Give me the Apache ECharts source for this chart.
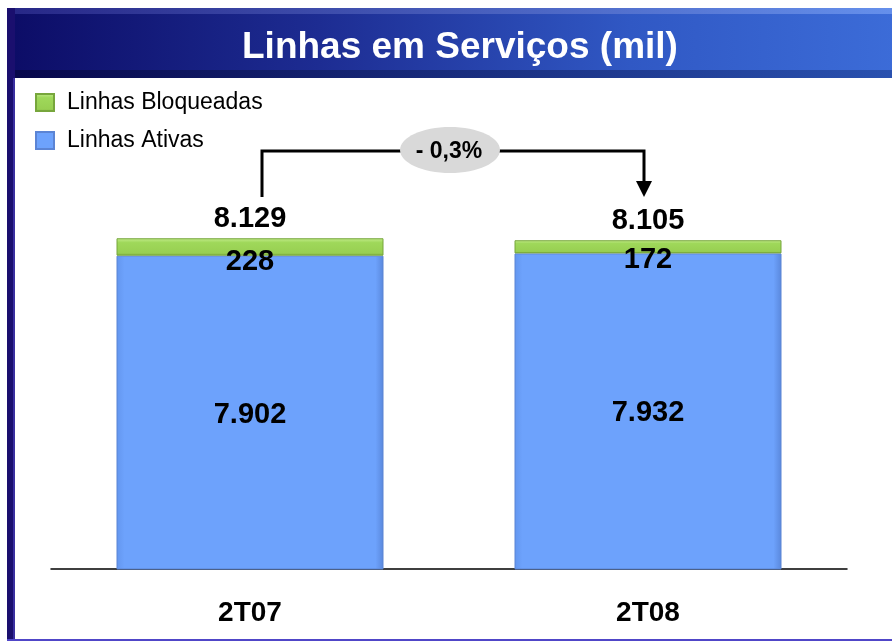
<!DOCTYPE html>
<html>
<head>
<meta charset="utf-8">
<script src="https://cdn.jsdelivr.net/npm/echarts@6/dist/echarts.min.js"></script>
<style>
html,body{margin:0;padding:0;background:#fff;}
#c{width:892px;height:643px;}
</style>
</head>
<body>
<div id="c"></div>
<script>
const categories = ['2T07', '2T08'];
const ativas = [7902, 7932];
const bloqueadas = [228, 172];
const totals = [8129, 8105];
const changeLabel = '- 0,3%';
const titleText = 'Linhas em Serviços (mil)';

const FONT = '"Liberation Sans", Arial, Helvetica, sans-serif';
const fmt = v => String(v).replace(/\B(?=(\d{3})+(?!\d))/g, '.');

const chart = echarts.init(document.getElementById('c'), null, {renderer: 'canvas'});

const option = {
  animation: false,
  backgroundColor: '#ffffff',
  title: {
    text: titleText,
    left: 237,
    top: 24,
    textStyle: {color: '#ffffff', fontFamily: FONT, fontWeight: 'bold', fontSize: 37}
  },
  legend: {
    orient: 'vertical',
    left: 30,
    top: 86,
    itemWidth: 18,
    itemHeight: 17,
    itemGap: 15,
    data: ['Linhas Bloqueadas', 'Linhas Ativas'],
    textStyle: {color: '#000', fontFamily: FONT, fontSize: 23, lineHeight: 17, padding: [0, 0, 0, 8]},
    icon: 'rect'
  },
  grid: {left: 51, right: 45, top: 210, bottom: 74},
  xAxis: {
    type: 'category',
    data: categories,
    axisLine: {show: true, lineStyle: {color: '#000', width: 1.5}},
    axisTick: {show: false},
    axisLabel: {color: '#000', fontFamily: FONT, fontWeight: 'bold', fontSize: 28, margin: 30}
  },
  yAxis: {
    type: 'value',
    min: 3800,
    max: 8500,
    interval: 100,
    show: false,
    splitLine: {show: false}
  },
  series: [
    {
      name: 'Linhas Ativas',
      type: 'bar',
      stack: 'total',
      barWidth: 267,
      data: ativas,
      itemStyle: {
        color: new echarts.graphic.LinearGradient(0, 0, 1, 0, [
          {offset: 0, color: '#6396ef'},
          {offset: 0.03, color: '#6da2fc'},
          {offset: 0.97, color: '#6da2fc'},
          {offset: 1, color: '#5a88dc'}
        ]),
        borderColor: '#5b84d4',
        borderWidth: 1
      },
      label: {
        show: true,
        position: 'inside',
        offset: [0, 2],
        formatter: p => fmt(p.value),
        color: '#000', fontFamily: FONT, fontWeight: 'bold', fontSize: 29
      }
    },
    {
      name: 'Linhas Bloqueadas',
      type: 'bar',
      stack: 'total',
      barWidth: 267,
      data: bloqueadas,
      itemStyle: {
        color: new echarts.graphic.LinearGradient(0, 0, 0, 1, [
          {offset: 0, color: '#c4ec8c'},
          {offset: 0.25, color: '#9fd85a'},
          {offset: 0.85, color: '#98cf52'},
          {offset: 1, color: '#7aab3c'}
        ]),
        borderColor: '#77a63c',
        borderWidth: 1
      },
      label: {
        show: true,
        position: 'bottom',
        distance: -8,
        formatter: p => fmt(p.value),
        color: '#000', fontFamily: FONT, fontWeight: 'bold', fontSize: 29
      }
    },
    {
      name: 'Total',
      type: 'line',
      data: totals,
      symbol: 'circle',
      symbolSize: 1,
      showSymbol: true,
      itemStyle: {color: 'rgba(0,0,0,0)'},
      lineStyle: {opacity: 0},
      silent: true,
      label: {
        show: true,
        position: 'top',
        distance: 4,
        formatter: p => fmt(p.value),
        color: '#000', fontFamily: FONT, fontWeight: 'bold', fontSize: 29
      }
    }
  ]
};
chart.setOption(option);

// decorative frame + annotation
const p1 = chart.convertToPixel({gridIndex: 0}, [0, totals[0]]);
const p2 = chart.convertToPixel({gridIndex: 0}, [1, totals[1]]);
const lx = p1[0] + 12, rx = p2[0] - 4;
const topY = 151, lowY = 197;
const midX = (lx + rx) / 2 - 10;

chart.setOption({
  graphic: [
    // banner
    {type: 'rect', z: -10, shape: {x: 7, y: 8, width: 890, height: 70},
      style: {fill: new echarts.graphic.LinearGradient(0, 0, 1, 0, [
        {offset: 0, color: '#0c0c66'},
        {offset: 0.35, color: '#1d2c92'},
        {offset: 0.7, color: '#3058c4'},
        {offset: 1, color: '#3c6cd8'}
      ])}},
    {type: 'rect', z: -9, shape: {x: 7, y: 8, width: 890, height: 6},
      style: {fill: new echarts.graphic.LinearGradient(0, 0, 1, 0, [
        {offset: 0, color: '#2a2a8a'},
        {offset: 1, color: '#6a94ee'}
      ]), opacity: 0.9}},
    {type: 'rect', z: -9, shape: {x: 7, y: 70, width: 890, height: 8},
      style: {fill: new echarts.graphic.LinearGradient(0, 0, 1, 0, [
        {offset: 0, color: '#07074a'},
        {offset: 1, color: '#2a52b0'}
      ])}},
    // left border
    {type: 'rect', z: -8, shape: {x: 7, y: 8, width: 8, height: 633},
      style: {fill: '#1a0f6e'}},
    {type: 'rect', z: -8, shape: {x: 13, y: 78, width: 2, height: 563},
      style: {fill: '#3a2fa0'}},
    // bottom line
    {type: 'rect', z: -8, shape: {x: 7, y: 639, width: 885, height: 2},
      style: {fill: '#5046c8'}},
    // bracket
    {type: 'polyline', z: 10, shape: {points: [[lx, lowY], [lx, topY], [rx, topY], [rx, lowY - 16]]},
      style: {stroke: '#000', lineWidth: 3, fill: null}},
    {type: 'polygon', z: 10, shape: {points: [[rx - 8, lowY - 16], [rx + 8, lowY - 16], [rx, lowY]]},
      style: {fill: '#000'}},
    {type: 'ellipse', z: 11, shape: {cx: midX + 7, cy: topY - 1, rx: 50, ry: 23},
      style: {fill: '#d9d9d9'}},
    {type: 'text', z: 12, x: midX + 6, y: topY + 1,
      style: {text: changeLabel, fill: '#000', font: 'bold 23px ' + FONT, textAlign: 'center', textVerticalAlign: 'middle'}}
  ]
});
</script>
</body>
</html>
